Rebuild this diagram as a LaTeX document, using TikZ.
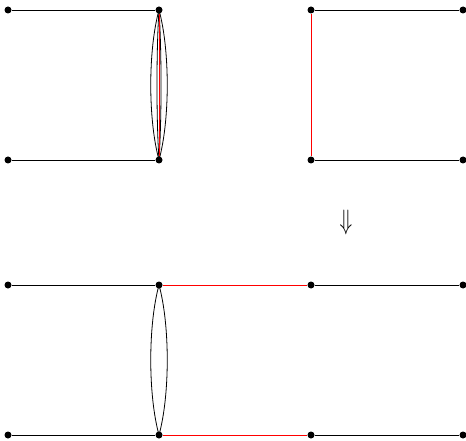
\documentclass[tikz,border=0pt]{standalone}
\usepackage{graphicx}
\begin{document}
\begin{tikzpicture}[x=1pt,y=-1pt,
  dot/.style={circle,fill=black,inner sep=0pt,minimum size=7pt},
  blk/.style={line width=0.8pt,draw=black},
  rline/.style={line width=1pt,color=red}]
\useasboundingbox (0,0) rectangle (466,441);
% top left
\node[dot] (a1) at (8,10) {};
\node[dot] (a2) at (159,10) {};
\node[dot] (a3) at (8,160) {};
\node[dot] (a4) at (159,160) {};
\draw[blk] (a1) -- (a2);
\draw[blk] (a3) -- (a4);
\draw[blk] (a2.center) .. controls (148,50) and (148,120) .. (a4.center);
\draw[blk] (a2.center) .. controls (170,50) and (170,120) .. (a4.center);
\draw[blk] (a2.center) .. controls (156.3,50) and (156.3,120) .. (a4.center);
\draw[blk] (a2.center) .. controls (161.7,50) and (161.7,120) .. (a4.center);
\draw[rline] (a2) -- (a4);
% top right
\node[dot] (b1) at (311,10) {};
\node[dot] (b2) at (463,10) {};
\node[dot] (b3) at (311,160) {};
\node[dot] (b4) at (463,160) {};
\draw[blk] (b1) -- (b2);
\draw[blk] (b3) -- (b4);
\draw[rline] (b1) -- (b3);
% arrow
\node[inner sep=0pt] (arr) at (346,222) {\scalebox{1}[1.35]{\fontsize{21}{21}\selectfont$\Downarrow$}};
% bottom
\node[dot] (c1) at (8,285) {};
\node[dot] (c2) at (159,285) {};
\node[dot] (c3) at (311,285) {};
\node[dot] (c4) at (463,285) {};
\node[dot] (d1) at (8,435) {};
\node[dot] (d2) at (159,435) {};
\node[dot] (d3) at (311,435) {};
\node[dot] (d4) at (463,435) {};
\draw[blk] (c1) -- (c2);
\draw[rline] (c2) -- (c3);
\draw[blk] (c3) -- (c4);
\draw[blk] (d1) -- (d2);
\draw[rline] (d2) -- (d3);
\draw[blk] (d3) -- (d4);
\draw[blk] (c2.center) .. controls (148,325) and (148,395) .. (d2.center);
\draw[blk] (c2.center) .. controls (170,325) and (170,395) .. (d2.center);
\end{tikzpicture}
\end{document}
